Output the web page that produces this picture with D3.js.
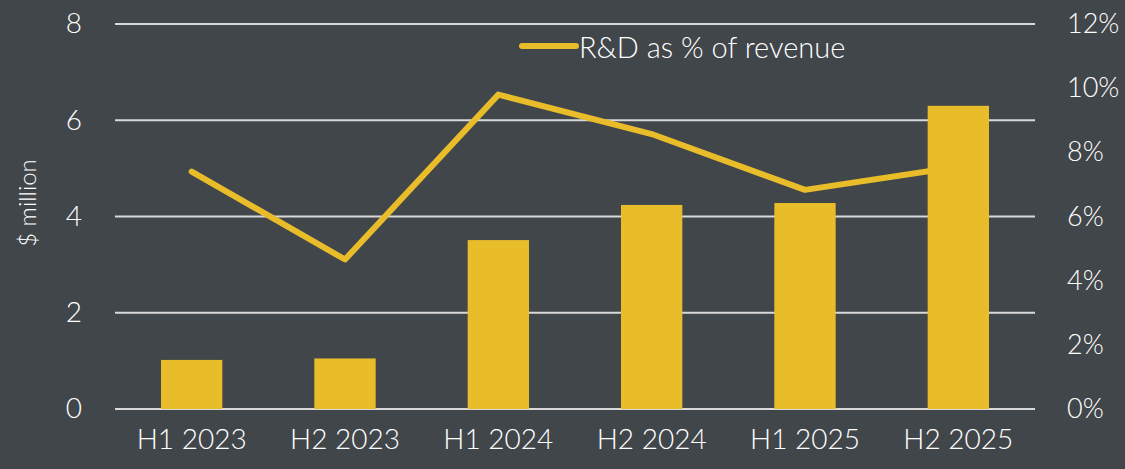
<!DOCTYPE html>
<html>
<head>
<meta charset="utf-8">
<script src="https://cdn.jsdelivr.net/npm/d3@7"></script>
<style>
  html, body { margin: 0; padding: 0; background: #41464a; }
  svg { display: block; }
  text { font-family: Lato, "Open Sans", sans-serif; font-weight: 300; fill: #ffffff; }
</style>
</head>
<body>
<svg id="chart" width="1125" height="469"></svg>
<script>
// chart data
var periods = ["H1 2023", "H2 2023", "H1 2024", "H2 2024", "H1 2025", "H2 2025"];
var rdSpend = [1.02, 1.05, 3.51, 4.24, 4.28, 6.30];          // $ million
var rdPctRevenue = [7.40, 4.66, 9.80, 8.57, 6.83, 7.55];     // % of revenue
var leftTicks = [0, 2, 4, 6, 8];
var rightTicks = [0, 2, 4, 6, 8, 10, 12];
var legendLabel = "R&D as % of revenue";

var width = 1125;
var height = 469;
var margin = { left: 115, right: 90, top: 24, bottom: 60 };

var svg = d3.select("#chart");
var barColor = "#e9bd2a";

// scales
var xScale = d3.scaleBand()
    .domain(periods)
    .range([margin.left, width - margin.right])
    .paddingInner(0.6)
    .paddingOuter(0.3);

var yLeft = d3.scaleLinear().domain([0, 8]).range([height - margin.bottom, margin.top]);
var yRight = d3.scaleLinear().domain([0, 12]).range([height - margin.bottom, margin.top]);

// gridlines
svg.append("g")
    .selectAll("line")
    .data(leftTicks)
    .enter()
    .append("line")
    .attr("x1", margin.left)
    .attr("x2", width - margin.right)
    .attr("y1", function(d) { return yLeft(d); })
    .attr("y2", function(d) { return yLeft(d); })
    .attr("stroke", "#d9d9d9")
    .attr("stroke-width", 2);

// left axis
var leftAxis = svg.append("g")
    .attr("transform", "translate(" + margin.left + ",0)")
    .call(d3.axisLeft(yLeft).tickValues(leftTicks).tickSize(0).tickPadding(33));
leftAxis.select(".domain").remove();
leftAxis.selectAll("text").style("font-size", "28px").attr("fill", "#fff");

// right axis
var rightAxis = svg.append("g")
    .attr("transform", "translate(" + (width - margin.right) + ",0)")
    .call(d3.axisRight(yRight).tickValues(rightTicks).tickSize(0).tickPadding(0)
        .tickFormat(function(d) { return d + "%"; }));
rightAxis.select(".domain").remove();
rightAxis.selectAll("text")
    .style("font-size", "27px")
    .attr("fill", "#fff")
    .attr("x", 32);

// bottom axis
var bottomAxis = svg.append("g")
    .attr("transform", "translate(0," + (height - margin.bottom) + ")")
    .call(d3.axisBottom(xScale).tickSize(0).tickPadding(20));
bottomAxis.select(".domain").remove();
bottomAxis.selectAll("text").style("font-size", "28px").attr("fill", "#fff");

// y axis title
svg.append("text")
    .attr("transform", "translate(26," + 203 + ") rotate(-90)")
    .attr("text-anchor", "middle")
    .attr("dominant-baseline", "central")
    .style("font-size", "24px")
    .text("$ million");

// line (drawn under the bars)
var line = d3.line()
    .x(function(d, i) { return xScale(periods[i]) + xScale.bandwidth() / 2; })
    .y(function(d) { return yRight(d); });

svg.append("path")
    .datum(rdPctRevenue)
    .attr("fill", "none")
    .attr("stroke", barColor)
    .attr("stroke-width", 6)
    .attr("stroke-linecap", "round")
    .attr("stroke-linejoin", "round")
    .attr("d", line);

// bars
svg.append("g")
    .selectAll("rect")
    .data(rdSpend)
    .enter()
    .append("rect")
    .attr("x", function(d, i) { return xScale(periods[i]); })
    .attr("y", function(d) { return yLeft(d); })
    .attr("width", xScale.bandwidth())
    .attr("height", function(d) { return yLeft(0) - yLeft(d); })
    .attr("fill", barColor);

// legend
var legend = svg.append("g").attr("transform", "translate(520,46)");
legend.append("line")
    .attr("x1", 2).attr("x2", 56)
    .attr("y1", 0).attr("y2", 0)
    .attr("stroke", barColor)
    .attr("stroke-width", 6)
    .attr("stroke-linecap", "round");
legend.append("text")
    .attr("x", 59)
    .attr("y", 0)
    .attr("dominant-baseline", "central")
    .style("font-size", "29px")
    .text(legendLabel);
</script>
</body>
</html>
